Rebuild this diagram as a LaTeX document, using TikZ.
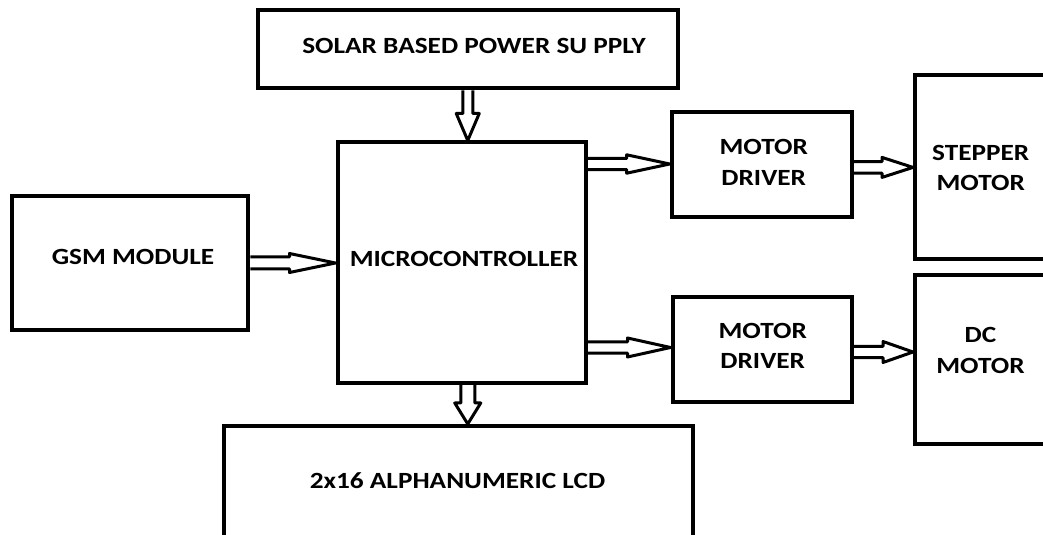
\documentclass[tikz,border=0pt]{standalone}
\usepackage{fontspec}
\usepackage{graphicx}
\setmainfont{Carlito}
\usetikzlibrary{calc}
\tikzset{
  blk/.style={draw, line width=4bp, rectangle, inner sep=0pt},
  txt/.style={font=\bfseries\fontsize{23.3}{30.5}\selectfont, align=center, inner sep=0pt},
  arrowline/.style={draw, line width=3bp, line join=round},
}
\newcommand\sx[1]{\scalebox{1.175}[1]{#1}}
\newcommand\hollowH[5]{%
  \draw[arrowline] let \p1=#1, \p2=#2 in
    (\x1,\y1+#3) -- (\x2-#5,\y1+#3) -- (\x2-#5,\y1+#4) -- (\x2,\y1)
    -- (\x2-#5,\y1-#4) -- (\x2-#5,\y1-#3) -- (\x1,\y1-#3);}
\newcommand\hollowV[5]{%
  \draw[arrowline] let \p1=#1, \p2=#2 in
    (\x1+#3,\y1) -- (\x1+#3,\y2+#5) -- (\x1+#4,\y2+#5) -- (\x1,\y2)
    -- (\x1-#4,\y2+#5) -- (\x1-#3,\y2+#5) -- (\x1-#3,\y1);}
\begin{document}
\begin{tikzpicture}[x=1bp,y=-1bp]
\useasboundingbox (0,0) rectangle (1043,535);
\clip (0,0) rectangle (1043,535);
% boxes
\node[blk, minimum width=419.5bp, minimum height=78.3bp] (solar) at (467.75,49.15) {};
\node[blk, minimum width=248.5bp, minimum height=240bp] (micro) at (461.75,262.5) {};
\node[blk, minimum width=180bp, minimum height=105bp] (drv1) at (761.7,164.5) {};
\node[blk, minimum width=179.2bp, minimum height=105bp] (drv2) at (762.1,349.5) {};
\node[blk, minimum width=185bp, minimum height=184.2bp] (stp) at (1007.5,167.4) {};
\node[blk, minimum width=185bp, minimum height=169bp] (dc) at (1007.5,359.5) {};
\node[blk, minimum width=235.8bp, minimum height=134bp] (gsm) at (130.4,263) {};
\node[blk, minimum width=469bp, minimum height=174bp] (lcd) at (458.3,513) {};
% texts
\node[txt] (solarT) at (474,46.3) {\sx{SOLAR BASED POWER SU PPLY}};
\node[txt] (microT) at (464,259) {\sx{MICROCONTROLLER}};
\node[txt] (gsmT) at (133,256.5) {\sx{GSM MODULE}};
\node[txt] (lcdT) at (457.5,481) {\sx{2x16 ALPHANUMERIC LCD}};
\node[txt] (drv1T) at (763.75,162.25) {\sx{MOTOR}\\\sx{DRIVER}};
\node[txt] (drv2T) at (762.75,345.75) {\sx{MOTOR}\\\sx{DRIVER}};
\node[txt] (stpT) at (980.75,167.9) {\sx{STEPPER}\\\sx{MOTOR}};
\node[txt] (dcT) at (980.5,350.5) {\sx{DC}\\\sx{MOTOR}};
% arrows
\hollowV{(solar.south)}{(micro.north)}{5bp}{11.5bp}{27bp}
\hollowV{($(micro.south)+(6,0)$)}{(lcd.north)}{7bp}{13bp}{21bp}
\hollowH{(gsm.east)}{(micro.west)}{6bp}{9.5bp}{46bp}
\hollowH{($(micro.east|-drv1.west)+(0,-0.5)$)}{(drv1.west)}{5.7bp}{9.2bp}{43bp}
\hollowH{($(micro.east|-drv2.west)+(0,-2)$)}{(drv2.west)}{5.7bp}{9.5bp}{43bp}
\hollowH{(drv1.east|-stp.west)}{(stp.west)}{5.7bp}{10bp}{31bp}
\hollowH{($(drv2.east)+(0,2.5)$)}{(dc.west)}{5.7bp}{10.5bp}{30bp}
\end{tikzpicture}
\end{document}
